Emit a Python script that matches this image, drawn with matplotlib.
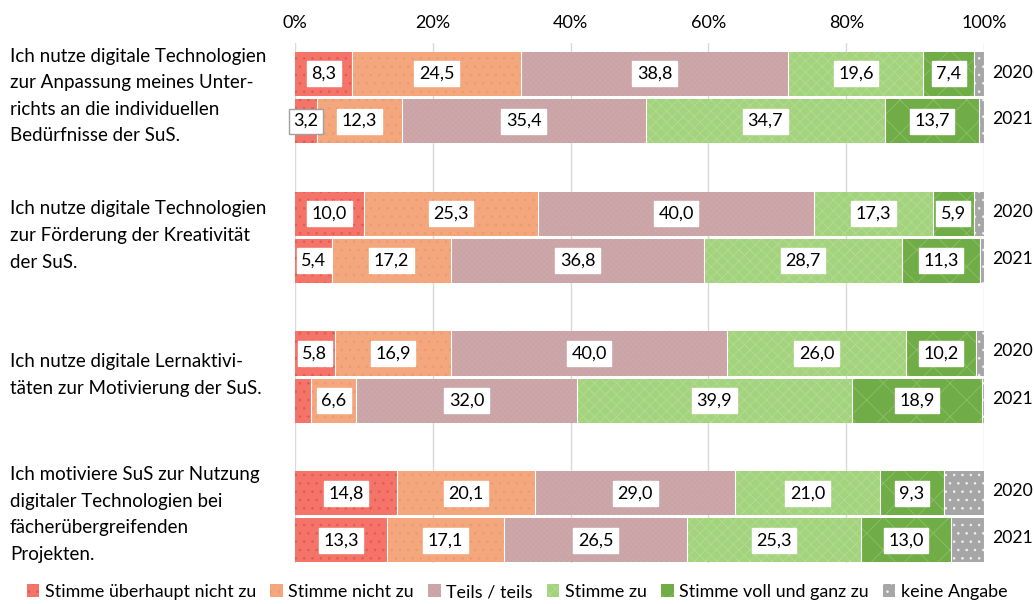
import numpy as np
import matplotlib.pyplot as plt

plt.rcParams['font.family'] = ['Lato', 'DejaVu Sans']
plt.rcParams['hatch.linewidth'] = 0.6

categories = [
    "Ich nutze digitale Technologien\nzur Anpassung meines Unter-\nrichts an die individuellen\nBedürfnisse der SuS.",
    "Ich nutze digitale Technologien\nzur Förderung der Kreativität\nder SuS.",
    "Ich nutze digitale Lernaktivi-\ntäten zur Motivierung der SuS.",
    "Ich motiviere SuS zur Nutzung\ndigitaler Technologien bei\nfächerübergreifenden\nProjekten.",
]
years = ['2020', '2021']
series = ['Stimme überhaupt nicht zu', 'Stimme nicht zu', 'Teils / teils',
          'Stimme zu', 'Stimme voll und ganz zu', 'keine Angabe']

# one row per category, columns follow the series
vals_2020 = np.array([
    [8.3, 24.5, 38.8, 19.6, 7.4, 1.4],
    [10.0, 25.3, 40.0, 17.3, 5.9, 1.5],
    [5.8, 16.9, 40.0, 26.0, 10.2, 1.1],
    [14.8, 20.1, 29.0, 21.0, 9.3, 5.8],
])
vals_2021 = np.array([
    [3.2, 12.3, 35.4, 34.7, 13.7, 0.7],
    [5.4, 17.2, 36.8, 28.7, 11.3, 0.6],
    [2.3, 6.6, 32.0, 39.9, 18.9, 0.3],
    [13.3, 17.1, 26.5, 25.3, 13.0, 4.8],
])

colors = ['#F47469', '#F4A67C', '#C9A9AB', '#A4D37E', '#70AD47', '#A6A6A6']
hatch_colors = ['#E45A4E', '#EE9A70', '#D0A0A4', '#B4DB94', '#8CC06A', '#F2F2F2']
hatches = ['..', '..', 'xxxxxx', 'xxx', 'x', '..']

fig = plt.figure(figsize=(10.34, 6.04), dpi=100)
ax = fig.add_axes([295 / 1034, 1 - 563 / 604, 689 / 1034, 520 / 604])

group_gap = 139.5
offset = 23.5
bar_h = 44
fs = 13

for g in range(len(categories)):
    for yi, data in enumerate([vals_2020, vals_2021]):
        y = g * group_gap + (-offset if yi == 0 else offset)
        left = 0
        for s in range(len(series)):
            w = data[g, s]
            ax.barh(y, w, left=left, height=bar_h, color=colors[s], edgecolor='none', zorder=2)
            ax.barh(y, w, left=left, height=bar_h, fill=False, hatch=hatches[s],
                    edgecolor=hatch_colors[s], linewidth=0, zorder=3)
            ax.plot([left + w, left + w], [y - bar_h / 2, y + bar_h / 2], color='white', lw=0.8, zorder=4)
            if s < 5 and not (g == 2 and yi == 1 and s == 0):
                ec = '#A0A0A0' if (g == 0 and yi == 1 and s == 0) else 'white'
                ax.text(left + w / 2, y, f"{w:.1f}".replace('.', ','), ha='center', va='center',
                        fontsize=fs, zorder=5,
                        bbox=dict(boxstyle='square,pad=0.25', fc='white', ec=ec, lw=1))
            left += w
        ax.text(992 / 1034, 1 - (96 + g * group_gap + (-offset if yi == 0 else offset)) / 604, years[yi],
                transform=fig.transFigure, ha='left', va='center', fontsize=12.6)
    ax.text(10 / 1034, 1 - (96 + g * group_gap) / 604, categories[g], transform=fig.transFigure,
            ha='left', va='center', fontsize=13.5, linespacing=1.68)

ax.set_xlim(0, 100)
ax.set_ylim(3.33 * group_gap, -0.39 * group_gap)
ax.set_xticks(np.arange(0, 101, 20))
ax.set_xticklabels([f"{v}%" for v in range(0, 101, 20)], fontsize=fs)
ax.xaxis.tick_top()
ax.tick_params(axis='x', length=0, pad=9)
ax.set_yticks([])
ax.grid(axis='x', color='#D9D9D9', lw=1, zorder=0)
for sp in ax.spines.values():
    sp.set_visible(False)

handles = [plt.Rectangle((0, 0), 1, 1, fc=colors[s], hatch=hatches[s], ec=hatch_colors[s], lw=0)
           for s in range(len(series))]
fig.legend(handles, series, loc='center', bbox_to_anchor=(0.5, 1 - 592 / 604), ncol=6, frameon=False,
           fontsize=12.9, handlelength=0.7, handleheight=0.7, handletextpad=0.3, columnspacing=0.8)

fig.savefig('out.png', dpi=100)
